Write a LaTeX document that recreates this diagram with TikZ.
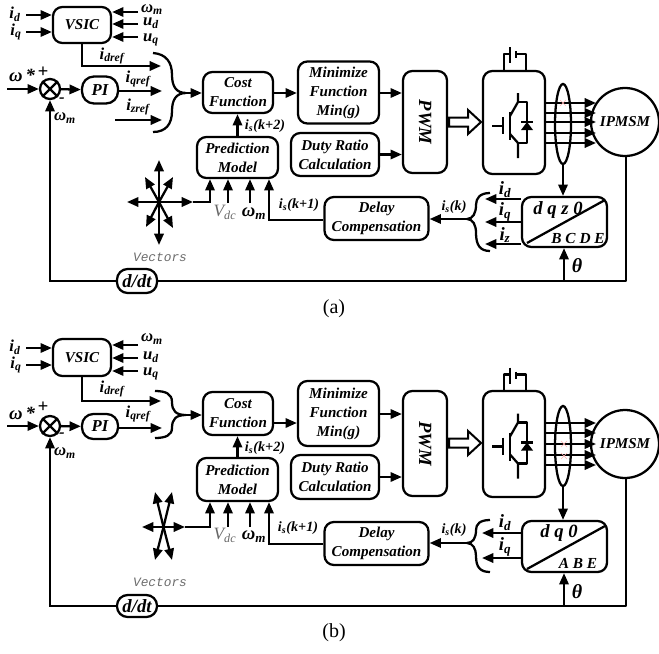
\documentclass[tikz,border=0pt]{standalone}
\usepackage{fontspec}
\setmainfont{Liberation Serif}
\setmonofont{Liberation Mono}
\usetikzlibrary{arrows.meta,shapes.geometric}
\newcommand{\lblfont}{\bfseries\itshape\fontsize{11.3}{14.2}\selectfont}
\newcommand{\sigfont}{\bfseries\itshape\fontsize{12.5}{14}\selectfont}
\newcommand{\smlfont}{\bfseries\itshape\fontsize{10.6}{12}\selectfont}
\tikzset{
  blockbox/.style={draw, line width=1.7pt, rounded corners=7pt, align=center, inner sep=0pt, font=\lblfont},
  blocksize/.style 2 args={minimum width=#1*0.75pt, minimum height=#2*0.75pt},
  sig/.style={-{Triangle[length=8.5pt,width=7pt]}, line width=1.7pt},
  wire/.style={line width=1.7pt, line join=round},
  siglab/.style={font=\sigfont, inner sep=0pt},
  smllab/.style={font=\smlfont, inner sep=0pt},
  greylab/.style={font=\itshape\fontsize{13}{14}\selectfont, inner sep=0pt, gray!80!black},
  veclab/.style={font=\ttfamily\itshape\fontsize{9.6}{12}\selectfont, inner sep=0pt, gray!85!black},
  glitch/.style={red!30, line width=0.5pt},
}
% switch, diode and dc source of the inverter, drawn at the height of panel (a)
\newcommand{\igbtunit}{%
  \draw[wire] (492,126) -- (503,126) (503,117) -- (503,134);
  \draw[wire] (510,112) -- (510,140);
  \draw[wire] (518,93) -- (518,102) -- (510,116);
  \draw[wire] (510,134) -- (518,143) -- (518,158);
  \draw[wire] (518,102) -- (527,102) -- (527,143) -- (518,143);
  \fill (521,130) -- (533,130) -- (527,122) -- cycle;
  \draw[wire] (521,122) -- (533,122);
  \draw[wire] (504,71) -- (504,54) -- (510,54) (510,47) -- (510,63);
  \draw[wire] (516,51) -- (516,58) (516,54) -- (526,54) -- (526,71);
}
\newcommand{\sumcross}[1]{\draw[wire] (#1.north west) -- (#1.south east) (#1.north east) -- (#1.south west);}
\begin{document}
\begin{tikzpicture}[x=0.75pt,y=-0.75pt]
  \useasboundingbox (0,0) rectangle (659,653);
  % ---------- panel (a) ----------
  % speed loop and references
  \node[blockbox, blocksize={58}{36}] (vsicA) at (82,25) {VSIC};
  \node[siglab] (idA) at (15,14) {i\textsubscript{d}};
  \node[siglab] (iqA) at (16,32) {i\textsubscript{q}};
  \draw[sig] (26,15) -- (26,15 -| vsicA.west);
  \draw[sig] (26,32) -- (26,32 -| vsicA.west);
  \node[siglab] (wmtA) at (152,9.5) {ω\textsubscript{m}};
  \node[siglab] (udA) at (151,23) {u\textsubscript{d}};
  \node[siglab] (uqA) at (151,40) {u\textsubscript{q}};
  \foreach \yy in {12,24,37} {
    \draw[sig] (138,\yy) -- (138,\yy -| vsicA.east);
  }
  \coordinate (drefA) at (161,66);
  \draw[sig] (vsicA.south) |- (drefA);
  \node[siglab] (ldrefA) at (112,56) {i\textsubscript{dref}};
  \node[siglab] (wsA) at (22,75) {\fontsize{14}{14}\selectfont ω\,*};
  \node[siglab] (plusA) at (43,72) {\fontsize{14}{14}\selectfont +};
  \node[draw, circle, line width=1.7pt, minimum size=15pt, inner sep=0pt] (sumA) at (50,89) {};
  \sumcross{sumA}
  \coordinate (wrefA) at (7,89);
  \draw[sig] (wrefA) -- (sumA);
  \node[blockbox, rounded corners=9pt, blocksize={36}{27}, font=\sigfont] (piA) at (100,90) {PI};
  \draw[sig] (sumA) -- (piA);
  \coordinate (qrefA) at (162,91);
  \draw[sig] (piA.east |- qrefA) -- (qrefA);
  \node[siglab] (lqrefA) at (138,79) {i\textsubscript{qref}};
  \coordinate (zstartA) at (115,120);
  \coordinate (zrefA) at (162,120);
  \draw[sig] (zstartA) -- (zrefA);
  \node[siglab] (lzrefA) at (138,107) {i\textsubscript{zref}};
  \draw[wire] (153,53) .. controls (166,54) and (172,62) .. (172,75) .. controls (172,86) and (176,93) .. (186,93)
    .. controls (176,93) and (172,100) .. (172,111) .. controls (172,124) and (166,132) .. (153,132);
  \coordinate (brA) at (184,93);
  % blocks
  \node[blockbox, blocksize={70}{41}] (costA) at (238,92.5) {Cost\\Function};
  \draw[sig] (brA) -- (costA.west |- brA);
  \node[blockbox, blocksize={81}{62}] (minA) at (338.5,92.5) {Minimize\\Function\\Min(g)};
  \draw[sig] (costA.east |- 0,93) -- (minA.west |- 0,93);
  \node[blockbox, blocksize={81}{41}] (predA) at (237.5,157.5) {Prediction\\Model};
  \draw[sig] (predA.north) -- (predA.north |- costA.south);
  \node[smllab] (k2A) at (265,126) {i\textsubscript{s}(k+2)};
  \node[blockbox, blocksize={88}{43}] (dutyA) at (335,154.5) {Duty Ratio\\Calculation};
  \node[blockbox, blocksize={44}{102}] (pwmA) at (425,122) {\rotatebox{-90}{\fontsize{14}{14}\selectfont PWM}};
  \draw[sig] (minA.east |- 0,93) -- (pwmA.west |- 0,93);
  \draw[sig] (dutyA.east) -- (dutyA.east -| pwmA.west);
  \draw[line width=1.5pt, line join=miter] (449,117.5) -- (468,117.5) -- (468,110) -- (481,122) -- (468,134) -- (468,126.5) -- (449,126.5) -- cycle;
  \node[blockbox, blocksize={62}{103}] (invA) at (514,122.5) {};
  \igbtunit
  \node[draw, circle, line width=1.7pt, minimum size=51pt, inner sep=0pt, font=\lblfont] (motorA) at (625,122) {IPMSM};
  \foreach \yy in {103,113,122,133,143} {
    \draw[sig] (invA.east |- 0,\yy) -- (596,\yy);
  }
  \node[draw, ellipse, line width=1.7pt, minimum width=12pt, minimum height=60pt, inner sep=0pt] (ellA) at (563,124) {};
  \draw[glitch] (560,100) -- (566,106) (566,100) -- (560,106);
  % measured currents
  \node[blockbox, blocksize={85}{50}] (dqA) at (564.5,222) {};
  \draw[wire] (527,243) -- (605,200);
  \node[font=\bfseries\itshape\fontsize{14}{14}\selectfont, inner sep=0pt] (dqzA) at (558,210) {d q z 0};
  \node[font=\bfseries\itshape\fontsize{11.5}{14}\selectfont, inner sep=0pt] (bcdeA) at (578,238) {B C D E};
  \draw[sig] (ellA.south) -- (ellA.south |- dqA.north);
  \foreach \yy in {199,222,244} {
    \draw[sig] (dqA.west |- 0,\yy) -- (485,\yy);
  }
  \node[siglab] (lidA) at (505,190) {\fontsize{14}{14}\selectfont i\textsubscript{d}};
  \node[siglab] (liqA) at (505,212) {\fontsize{14}{14}\selectfont i\textsubscript{q}};
  \node[siglab] (lizA) at (505,235) {\fontsize{14}{14}\selectfont i\textsubscript{z}};
  \draw[wire] (490,193) .. controls (480,193) and (476,198) .. (476,205) .. controls (476,213) and (473,219) .. (467,219)
    .. controls (473,219) and (476,225) .. (476,233) .. controls (476,245) and (480,251) .. (490,251);
  \coordinate (brbA) at (468,219);
  \node[blockbox, blocksize={104}{43}] (delayA) at (376.5,218.5) {Delay\\Compensation};
  \draw[sig] (brbA) -- (delayA.east |- brbA);
  \node[smllab] (lkA) at (454,207) {i\textsubscript{s}(k)};
  % prediction inputs
  \coordinate (vecA) at (159,202);
  \foreach \tx/\ty in {127/202,193/202,159/160,159/245,145/177,173/177,146/227,173/228} {
    \draw[sig] (vecA) -- (\tx,\ty);
  }
  \coordinate (vecoutA) at (193,202);
  \coordinate (pvecA) at (210,202);
  \draw[sig] (vecoutA) -- (pvecA) -- (pvecA |- predA.south);
  \coordinate (pvdcA) at (228,203);
  \coordinate (pwmtA) at (250,203);
  \draw[sig] (pvdcA) -- (pvdcA |- predA.south);
  \draw[sig] (pwmtA) -- (pwmtA |- predA.south);
  \coordinate (pdelA) at (269,220);
  \draw[sig] (delayA.west |- pdelA) -- (pdelA) -- (pdelA |- predA.south);
  \node[greylab] (vdcA) at (225,212) {V\textsubscript{dc}};
  \node[siglab] (wmbA) at (254,214) {\fontsize{14}{14}\selectfont ω\textsubscript{m}};
  \node[smllab] (k1A) at (299,205) {i\textsubscript{s}(k+1)};
  \node[veclab] (lvecA) at (160,257) {Vectors};
  % feedback
  \node[blockbox, rounded corners=8pt, blocksize={40}{24}, font=\bfseries\itshape\fontsize{14}{14}\selectfont] (ddtA) at (137,281) {d/dt};
  \coordinate (fbrA) at (626,281);
  \coordinate (thA) at (564,281);
  \draw[wire] (motorA.south -| fbrA) -- (fbrA) -- (ddtA.east);
  \draw[sig] (ddtA.west) -- (sumA.south |- ddtA.west) -- (sumA.south);
  \draw[sig] (thA) -- (thA |- dqA.south);
  \node[font=\bfseries\itshape\fontsize{15}{15}\selectfont, inner sep=0pt] (ltA) at (577,266) {θ};
  \node[siglab] (minusA) at (62,100) {-};
  \node[siglab] (wfA) at (65,118) {ω\textsubscript{m}};
  \node[font=\fontsize{15}{16}\selectfont, inner sep=0pt] (capA) at (334,309) {(a)};

  % ---------- panel (b) ----------
  % speed loop and references
  \node[blockbox, blocksize={58}{37}] (vsicB) at (82,357.5) {VSIC};
  \node[siglab] (idB) at (15,347) {i\textsubscript{d}};
  \node[siglab] (iqB) at (16,365) {i\textsubscript{q}};
  \draw[sig] (26,348) -- (26,348 -| vsicB.west);
  \draw[sig] (26,365) -- (26,365 -| vsicB.west);
  \node[siglab] (wmtB) at (152,339) {ω\textsubscript{m}};
  \node[siglab] (udB) at (151,357) {u\textsubscript{d}};
  \node[siglab] (uqB) at (151,374) {u\textsubscript{q}};
  \foreach \yy in {345,358,371} {
    \draw[sig] (138,\yy) -- (138,\yy -| vsicB.east);
  }
  \coordinate (drefB) at (161,401);
  \draw[sig] (vsicB.south) |- (drefB);
  \node[siglab] (ldrefB) at (112,389) {i\textsubscript{dref}};
  \node[siglab] (wsB) at (22,413) {\fontsize{14}{14}\selectfont ω\,*};
  \node[siglab] (plusB) at (43,407) {\fontsize{14}{14}\selectfont +};
  \node[draw, circle, line width=1.7pt, minimum size=15pt, inner sep=0pt] (sumB) at (50,426) {};
  \sumcross{sumB}
  \coordinate (wrefB) at (7,426);
  \draw[sig] (wrefB) -- (sumB);
  \node[blockbox, rounded corners=8.5pt, blocksize={36}{25}, font=\sigfont] (piB) at (100,426.5) {PI};
  \draw[sig] (sumB) -- (piB);
  \coordinate (qrefB) at (162,428);
  \draw[sig] (piB.east |- qrefB) -- (qrefB);
  \node[siglab] (lqrefB) at (138,414) {i\textsubscript{qref}};
  \draw[wire] (155,391) .. controls (166,391) and (172,394) .. (172,402) .. controls (172,411) and (176,415) .. (186,415)
    .. controls (176,415) and (172,419) .. (172,428) .. controls (172,435) and (166,438) .. (155,438);
  \coordinate (brB) at (184,415);
  % blocks
  \node[blockbox, blocksize={70}{43}] (costB) at (238,413.5) {Cost\\Function};
  \draw[sig] (brB) -- (costB.west |- brB);
  \node[blockbox, blocksize={81}{65}] (minB) at (338.5,413.5) {Minimize\\Function\\Min(g)};
  \draw[sig] (costB.east |- 0,423) -- (minB.west |- 0,423);
  \node[blockbox, blocksize={81}{43}] (predB) at (237.5,479.5) {Prediction\\Model};
  \draw[sig] (predB.north) -- (predB.north |- costB.south);
  \node[smllab] (k2B) at (265,448) {i\textsubscript{s}(k+2)};
  \node[blockbox, blocksize={88}{44}] (dutyB) at (335,477) {Duty Ratio\\Calculation};
  \node[blockbox, blocksize={44}{105}] (pwmB) at (425,443.5) {\rotatebox{-90}{\fontsize{14}{14}\selectfont PWM}};
  \draw[sig] (minB.east |- 0,414) -- (pwmB.west |- 0,414);
  \draw[sig] (dutyB.east) -- (dutyB.east -| pwmB.west);
  \draw[line width=1.5pt, line join=miter] (449,438.5) -- (468,438.5) -- (468,431) -- (481,443) -- (468,455) -- (468,447.5) -- (449,447.5) -- cycle;
  \node[blockbox, blocksize={62}{106}] (invB) at (514,444) {};
  \begin{scope}[shift={(0,320.5)}]
    \igbtunit
  \end{scope}
  \node[draw, circle, line width=1.7pt, minimum size=51pt, inner sep=0pt, font=\lblfont] (motorB) at (625,444) {IPMSM};
  \foreach \yy in {423,433,444,455,465} {
    \draw[sig] (invB.east |- 0,\yy) -- (596,\yy);
  }
  \node[draw, ellipse, line width=1.7pt, minimum width=12pt, minimum height=60pt, inner sep=0pt] (ellB) at (563,446) {};
  \draw[glitch] (561,441) -- (567,447) (567,441) -- (561,447);
  \draw[glitch] (561,453) -- (567,459) (567,453) -- (561,459);
  % measured currents
  \node[blockbox, blocksize={85}{51}] (dqB) at (564.5,546.5) {};
  \draw[wire] (527,569) -- (605,526);
  \node[font=\bfseries\itshape\fontsize{14}{14}\selectfont, inner sep=0pt] (dq0B) at (559,533) {d q 0};
  \node[font=\bfseries\itshape\fontsize{11.5}{14}\selectfont, inner sep=0pt] (abeB) at (578,563) {A B E};
  \draw[sig] (ellB.south) -- (ellB.south |- dqB.north);
  \foreach \yy in {533,558} {
    \draw[sig] (dqB.west |- 0,\yy) -- (482,\yy);
  }
  \node[siglab] (lidB) at (505,523) {\fontsize{14}{14}\selectfont i\textsubscript{d}};
  \node[siglab] (liqB) at (505,547) {\fontsize{14}{14}\selectfont i\textsubscript{q}};
  \draw[wire] (490,520) .. controls (480,520) and (476,524) .. (476,530) .. controls (476,538) and (473,543) .. (467,543)
    .. controls (473,543) and (476,549) .. (476,556) .. controls (476,567) and (480,572) .. (490,572);
  \coordinate (brbB) at (468,543);
  \node[blockbox, blocksize={104}{43}] (delayB) at (376.5,543.5) {Delay\\Compensation};
  \draw[sig] (brbB) -- (delayB.east |- brbB);
  \node[smllab] (lkB) at (454,530) {i\textsubscript{s}(k)};
  % prediction inputs
  \coordinate (vecB) at (163.5,527);
  \foreach \tx/\ty in {142/527,185/527,155/492,172/492,155/560,172/560} {
    \draw[sig] (vecB) -- (\tx,\ty);
  }
  \coordinate (vecoutB) at (185,527);
  \coordinate (pvecB) at (210,527);
  \draw[sig] (vecoutB) -- (pvecB) -- (pvecB |- predB.south);
  \coordinate (pvdcB) at (228,527);
  \coordinate (pwmtB) at (250,527);
  \draw[sig] (pvdcB) -- (pvdcB |- predB.south);
  \draw[sig] (pwmtB) -- (pwmtB |- predB.south);
  \coordinate (pdelB) at (269,544);
  \draw[sig] (delayB.west |- pdelB) -- (pdelB) -- (pdelB |- predB.south);
  \node[greylab] (vdcB) at (225,535) {V\textsubscript{dc}};
  \node[siglab] (wmbB) at (254,537) {\fontsize{14}{14}\selectfont ω\textsubscript{m}};
  \node[smllab] (k1B) at (298,528) {i\textsubscript{s}(k+1)};
  \node[veclab] (lvecB) at (160,582) {Vectors};
  % feedback
  \node[blockbox, rounded corners=8pt, blocksize={40}{22}, font=\bfseries\itshape\fontsize{14}{14}\selectfont] (ddtB) at (137,606) {d/dt};
  \coordinate (fbrB) at (626,606);
  \coordinate (thB) at (564,606);
  \draw[wire] (motorB.south -| fbrB) -- (fbrB) -- (ddtB.east);
  \draw[sig] (ddtB.west) -- (sumB.south |- ddtB.west) -- (sumB.south);
  \draw[sig] (thB) -- (thB |- dqB.south);
  \node[font=\bfseries\itshape\fontsize{15}{15}\selectfont, inner sep=0pt] (ltB) at (577,592) {θ};
  \node[siglab] (minusB) at (62,435) {-};
  \node[siglab] (wfB) at (65,453) {ω\textsubscript{m}};
  \node[font=\fontsize{15}{16}\selectfont, inner sep=0pt] (capB) at (334,633) {(b)};
\end{tikzpicture}
\end{document}
